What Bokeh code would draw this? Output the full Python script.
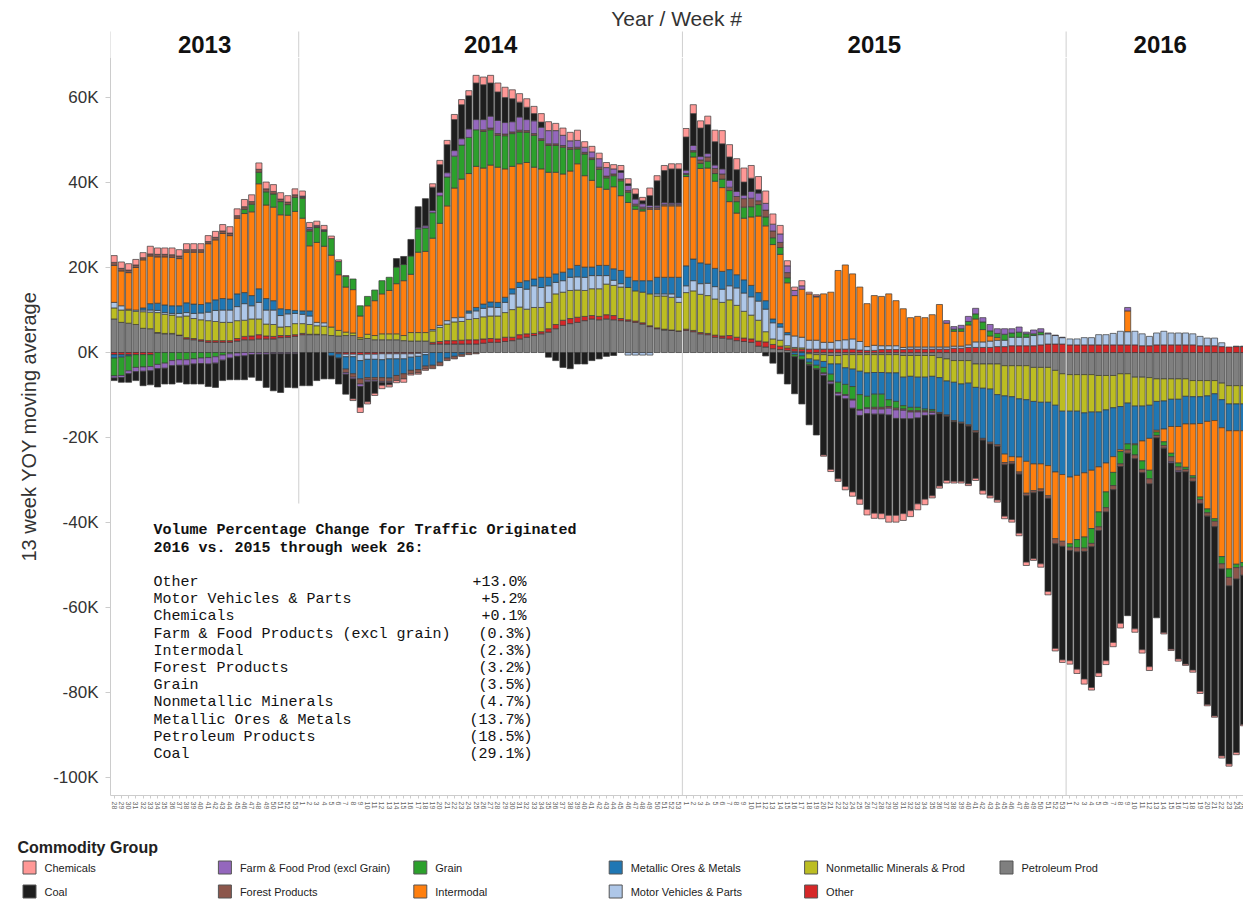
import numpy as np
from bokeh.plotting import figure
from bokeh.layouts import column
from bokeh.models import ColumnDataSource, FixedTicker, Range1d
from bokeh.core.properties import value
from bokeh.embed import file_html
from bokeh.resources import INLINE

# ---------------- data (thousands of carloads, 13-week YOY moving average) ----------------
YEARS = [2013, 2014, 2015, 2016]
WEEKS_2013 = list(range(28, 54))
WEEKS_2014 = list(range(1, 54))
WEEKS_2015 = list(range(1, 54))
WEEKS_2016 = list(range(1, 27))

PETROLEUM = [
    7.9,7.1,6.9,6.6,5.7,5.6,4.6,4.4,4.4,4.0,3.2,3.0,2.7,2.4,2.4,2.4,2.4,2.7,3.0,3.0,3.2,3.2,3.2,3.5,3.6,3.8,
    4.2,4.2,4.2,4.2,4.0,3.9,4.0,4.0,3.1,3.3,3.0,3.0,3.0,3.0,2.8,2.7,2.7,2.7,2.0,2.0,2.0,2.0,2.0,2.0,2.0,2.2,2.4,
    2.4,2.6,2.8,3.2,3.6,4.0,4.4,4.8,5.6,6.4,6.8,7.1,7.5,7.9,7.7,7.9,7.7,7.5,7.4,7.1,6.7,6.1,5.6,5.3,5.2,5.0,
    5.2,4.9,4.4,4.2,3.6,3.4,3.2,2.8,2.6,2.4,1.5,1.3,0.9,0.7,0.5,0.3,0.2,-0.3,-0.5,-0.5,-0.7,-0.7,-0.5,-0.5,-0.5,-0.5,-0.5,
    -0.5,-0.5,-0.5,-0.7,-0.7,-0.7,-0.7,-0.7,-1.2,-1.5,-1.9,-1.9,-1.9,-2.7,-2.7,-2.7,-2.7,-3.1,-3.1,-3.1,-3.1,-3.5,-3.5,-3.5,-4.2,-5.0,
    -5.2,-5.2,-5.2,-5.2,-5.4,-5.4,-5.4,-5.0,-5.0,-5.8,-5.8,-5.9,-6.2,-6.2,-6.2,-6.2,-6.2,-6.6,-6.6,-6.6,-6.6,-7.2,-7.8,-7.8,-7.8]
OTHER = [
    -0.5,-0.5,-0.5,-0.5,-0.5,-0.5,0.1,0.1,0.1,0.1,0.3,0.3,0.3,0.4,0.4,0.4,0.4,0.6,0.8,0.9,1.0,0.7,0.6,0.5,0.4,0.4,
    0.3,0.1,0.1,0.0,0.0,-0.3,-0.4,-0.4,-0.5,-0.4,-0.4,-0.3,-0.3,-0.3,-0.3,-0.3,-0.2,0.0,0.4,0.6,0.8,0.8,0.9,1.0,1.0,1.0,0.9,
    0.8,1.0,0.8,1.0,0.8,0.5,0.5,0.8,1.0,1.2,1.2,1.2,1.0,0.8,0.8,1.0,1.0,0.5,0.3,0.3,0.3,0.2,0.2,0.2,0.1,0.1,
    0.3,0.3,0.3,0.3,0.5,0.5,0.8,0.8,0.8,0.8,1.2,1.2,1.0,0.8,0.6,0.6,0.6,0.8,0.8,0.8,0.8,0.8,0.8,0.8,0.6,0.5,0.5,
    0.7,0.7,0.7,0.7,0.8,0.8,0.8,0.8,0.8,0.8,1.0,1.0,1.2,1.2,1.2,1.2,1.4,1.4,1.6,1.6,1.6,1.6,1.8,2.0,2.0,2.0,
    1.8,1.8,1.8,1.8,1.8,1.8,1.8,1.8,1.8,1.8,1.6,1.6,1.8,1.8,1.8,1.8,1.8,1.8,1.6,1.6,1.6,1.4,1.3,1.4,1.4]
NONMETALLIC = [
    2.6,2.9,3.1,3.1,3.9,3.9,4.7,4.5,4.3,4.3,5.1,4.7,4.7,4.7,4.5,4.3,4.3,4.2,3.8,4.0,3.7,2.8,2.8,2.0,2.1,2.6,
    2.3,2.3,2.0,2.0,2.0,1.3,0.8,0.6,0.4,1.0,1.0,1.4,1.4,1.4,1.2,2.0,2.0,2.0,2.7,3.3,3.9,4.4,4.4,4.8,5.0,5.2,5.3,
    5.4,5.8,6.5,6.5,5.8,6.1,5.7,6.2,7.2,6.6,6.6,6.4,6.1,6.3,6.5,7.2,7.1,7.4,7.6,7.1,7.2,7.5,7.5,7.8,7.7,6.7,
    8.6,9.3,9.0,8.9,8.5,7.9,8.4,7.5,6.3,5.6,4.9,2.4,1.3,1.4,0.5,0.3,0.3,-1.2,-1.3,-1.6,-2.0,-2.0,-3.1,-3.4,-3.9,-4.3,-4.2,
    -4.2,-4.3,-4.3,-5.1,-4.9,-5.1,-5.1,-4.9,-4.7,-5.2,-5.1,-5.5,-5.3,-5.5,-5.7,-5.9,-7.2,-7.1,-7.3,-7.8,-8.0,-8.0,-8.2,-8.2,-8.2,-8.8,
    -8.6,-8.6,-9.0,-8.8,-8.6,-8.1,-7.6,-7.7,-6.9,-6.8,-6.8,-6.5,-5.3,-5.2,-4.8,-4.8,-4.1,-3.8,-3.8,-3.6,-3.1,-3.9,-4.3,-4.3,-4.3]
MOTOR = [
    1.3,1.0,0.2,0.3,0.4,0.5,0.5,0.4,0.4,0.8,0.8,1.2,1.6,2.0,2.6,2.9,2.9,3.3,3.9,3.1,3.9,3.3,3.4,2.7,3.0,2.4,
    2.2,2.0,0.8,0.8,0.0,0.0,-0.6,-0.6,-1.4,-1.2,-1.2,-1.4,-1.2,-1.2,-1.2,-0.8,-0.7,-0.5,0.3,0.5,0.8,1.0,1.0,1.5,1.8,2.0,2.1,
    2.0,2.4,3.7,4.6,4.7,5.1,4.7,3.9,2.7,2.7,3.1,3.1,3.1,3.1,3.1,2.0,1.2,0.8,-0.6,-0.6,-0.6,-0.6,0.5,0.5,0.8,1.2,
    1.6,2.4,2.5,2.9,2.9,3.1,3.3,4.1,4.3,4.3,4.5,5.3,3.8,3.1,2.6,2.7,2.5,2.1,2.1,1.6,1.6,2.0,2.2,2.4,2.0,0.9,1.2,
    0.9,0.9,0.9,0.5,0.5,0.5,0.5,0.5,0.5,0.5,0.5,0.5,0.6,1.3,1.3,1.5,1.5,1.5,2.0,2.0,2.0,2.4,2.4,2.4,2.0,1.5,
    1.4,1.4,1.7,1.7,2.4,2.4,2.7,3.2,3.1,3.2,2.8,2.2,2.8,3.2,2.8,2.8,2.8,2.6,2.2,1.8,1.8,0.9,0.0,0.1,0.1]
METALLIC = [
    -0.8,-0.6,-0.3,0.0,0.5,1.5,1.7,1.8,1.8,1.8,2.3,2.2,2.0,2.2,2.5,2.7,2.6,3.0,2.6,2.4,3.2,2.7,2.2,1.6,1.0,0.7,
    0.8,1.2,0.0,0.0,-0.8,-1.0,-2.9,-4.0,-4.3,-4.3,-4.3,-4.2,-4.5,-3.9,-3.5,-3.1,-3.1,-2.7,-3.0,-2.3,-1.3,-0.9,-0.4,0.5,0.8,1.0,1.2,
    1.2,1.2,1.2,1.2,2.0,1.6,2.4,2.0,2.0,2.0,2.0,2.7,2.4,2.0,2.4,2.4,2.7,3.1,2.4,2.4,2.7,3.1,3.9,3.9,3.9,4.7,
    4.7,5.1,4.9,4.5,4.3,4.2,3.8,3.1,3.1,2.7,2.0,2.0,0.9,0.8,0.5,-0.5,-0.8,-0.8,-1.2,-1.4,-2.4,-4.3,-3.9,-4.1,-5.5,-5.5,-5.1,
    -5.1,-6.3,-6.7,-6.7,-7.3,-7.1,-7.5,-7.8,-8.2,-8.0,-9.0,-9.0,-9.8,-10.2,-11.8,-12.5,-11.8,-13.7,-14.1,-13.7,-14.5,-14.7,-14.5,-14.9,-15.7,-14.9,
    -15.5,-15.1,-14.1,-13.7,-12.9,-12.5,-11.5,-10.2,-9.6,-8.9,-8.2,-7.8,-6.8,-6.6,-6.4,-6.4,-6.5,-6.4,-6.3,-6.0,-6.3,-6.6,-6.3,-6.3,-6.3]
INTERMODAL = [
    8.7,8.2,8.6,10.0,11.3,11.2,10.9,11.3,11.4,11.1,11.9,12.2,12.3,13.9,14.1,15.3,14.9,17.8,18.6,19.7,24.7,22.0,22.0,22.1,22.2,23.3,
    21.8,15.3,18.8,18.0,16.9,13.1,10.6,10.2,5.1,6.7,8.2,9.4,10.2,11.8,12.9,13.7,18.9,19.1,21.5,24.0,27.0,30.5,32.5,32.3,33.2,32.0,32.2,
    31.8,30.2,28.8,27.9,27.8,26.3,25.5,24.7,23.9,23.1,23.0,23.9,21.5,20.4,18.4,17.9,19.3,17.6,17.6,16.8,16.4,16.8,16.0,16.8,16.8,16.8,
    21.0,24.0,22.2,22.6,20.5,19.7,16.0,14.5,14.5,16.1,18.0,17.6,17.5,16.3,11.7,9.5,11.3,10.9,10.2,11.4,11.8,16.5,17.6,15.3,12.8,10.1,11.7,
    11.6,12.2,10.6,9.1,6.9,7.2,6.9,7.6,10.0,5.6,3.5,3.5,4.7,5.4,2.9,1.2,0.6,-2.0,-1.2,-3.5,-7.5,-6.3,-5.9,-7.1,-15.7,-15.7,
    -15.7,-15.1,-15.1,-13.7,-10.6,-6.8,-3.7,-0.4,4.9,-0.2,-4.7,-7.5,-0.4,-3.0,-6.3,-8.6,-10.2,-12.2,-17.3,-20.6,-23.1,-30.3,-32.5,-31.4,-31.0]
GRAIN = [
    -4.2,-4.3,-3.5,-3.0,-2.9,-2.8,-2.8,-2.5,-1.9,-1.7,-1.7,-1.5,-1.3,-1.2,-1.0,-0.6,-0.3,-0.1,1.0,1.8,2.7,3.1,3.1,3.1,2.5,3.3,
    4.7,3.5,3.5,3.5,3.9,3.1,2.5,2.5,2.4,2.2,2.5,3.1,3.1,3.9,3.8,4.3,5.5,5.5,6.0,6.5,6.8,7.5,8.0,8.5,8.6,8.6,8.3,
    7.5,7.8,7.7,7.5,7.1,7.5,6.7,6.3,6.3,6.3,5.1,3.5,5.1,4.9,4.2,2.7,2.6,3.5,2.4,0.8,0.5,0.0,0.0,0.0,0.0,0.0,
    0.5,1.2,1.2,1.6,1.8,2.0,2.6,2.7,2.6,2.4,2.7,2.1,1.6,1.6,1.2,-0.5,-0.8,-0.5,-0.8,-1.3,-1.6,-2.4,-2.4,-3.0,-3.5,-2.7,-3.1,
    -3.1,-1.6,-1.6,-0.8,-0.8,-0.8,-0.4,-0.4,0.0,0.0,0.5,0.6,0.8,1.2,1.8,1.2,1.0,1.4,1.0,1.2,0.8,0.4,0.6,0.0,0.0,0.0,
    -0.8,-1.9,-2.6,-3.5,-3.5,-3.7,-3.1,-2.9,-1.4,-2.4,-2.0,-2.0,-0.8,-0.9,-0.8,-0.9,-0.5,-0.5,-0.6,-0.9,-0.6,-1.7,-2.0,-0.8,-1.0]
FOREST = [
    0.7,0.6,0.6,0.6,0.5,0.5,0.6,0.6,0.6,0.6,0.6,0.6,0.6,0.5,0.6,0.6,0.6,0.6,0.6,0.6,0.7,0.7,0.6,0.6,0.6,0.6,
    0.3,0.4,0.3,0.2,0.0,0.0,-0.8,-0.8,-1.2,-0.6,-0.6,-0.9,-0.8,-1.2,-1.2,-0.8,-0.8,-0.7,-0.8,-0.8,-0.6,-0.6,-0.5,-0.5,-0.3,0.4,0.4,
    0.4,0.4,0.4,0.4,0.4,0.4,0.4,0.4,0.4,0.4,0.4,0.4,0.4,0.4,0.5,0.4,0.4,0.4,0.4,0.4,0.4,0.4,0.4,0.4,0.4,0.4,
    0.2,0.3,0.8,1.0,1.2,1.2,0.8,1.2,2.0,2.0,0.9,1.6,1.6,1.2,1.2,0.0,0.0,-0.2,-0.2,-0.2,-0.2,-0.2,-0.2,-0.2,-0.2,-0.2,-0.4,
    -0.4,-0.4,-0.4,-0.3,-0.3,-0.3,-0.3,-0.3,-0.3,-0.3,-0.3,-0.3,-0.3,-0.4,-0.4,-0.4,-0.4,-0.5,-0.5,-0.5,-0.6,-0.5,-0.6,-0.6,-1.2,-1.2,
    -0.8,-1.0,-0.8,-0.8,-0.9,-1.0,-1.0,-0.6,-0.8,-0.9,-0.8,-1.2,-0.6,-0.6,-1.2,-0.9,-0.6,-0.8,-0.9,-0.8,-1.3,-1.2,-2.0,-2.7,-2.0]
FARM = [
    -0.5,-0.5,-0.7,-1.0,-1.0,-1.0,-1.0,-1.2,-1.2,-1.3,-1.3,-1.2,-1.3,-1.5,-1.5,-1.2,-1.0,-0.8,-0.8,-0.5,-0.4,-0.4,-0.3,-0.3,-0.3,-0.3,
    0.2,0.4,0.2,0.2,0.0,0.0,-0.4,-0.4,-0.6,-0.4,-0.3,-0.3,-0.3,0.0,0.0,0.0,0.3,0.5,0.5,0.8,1.0,1.3,1.5,2.0,2.4,2.4,2.8,
    3.1,2.7,2.4,3.1,2.6,3.0,2.7,3.1,3.1,2.4,1.6,1.6,1.2,1.4,2.0,2.0,1.2,1.6,1.2,1.2,0.8,0.5,0.4,0.4,0.3,0.3,
    0.8,1.2,0.8,0.8,0.8,1.2,1.6,1.2,0.8,1.6,1.8,1.6,1.6,2.0,1.6,1.2,0.8,0.0,0.2,-0.4,-0.5,-0.6,-0.8,-1.9,-1.2,-1.2,-1.2,
    -1.2,-1.6,-2.0,-2.0,-1.6,-1.4,-0.8,-0.6,0.0,0.6,0.6,0.8,1.2,1.3,1.0,1.5,1.1,1.3,1.0,1.2,0.4,0.9,0.8,0.2,0.1,0.1,
    0.0,0.0,0.0,0.0,0.0,0.0,0.0,0.0,0.8,0.0,0.0,0.0,0.0,0.0,-0.3,-0.3,0.0,0.0,0.0,0.0,0.0,0.0,0.0,0.0,0.0]
COAL = [
    -0.6,-1.1,-2.0,-2.1,-3.4,-3.3,-4.3,-3.7,-4.3,-4.0,-4.4,-4.7,-4.8,-5.3,-5.7,-4.8,-5.1,-5.5,-5.6,-5.3,-6.2,-7.8,-8.7,-9.1,-7.9,-8.0,
    -7.8,-7.8,-6.6,-6.2,-5.4,-6.1,-4.7,-4.7,-4.9,-4.7,-2.8,-0.6,-0.5,2.0,1.9,3.9,4.9,6.4,5.5,6.5,6.6,7.3,8.0,7.8,8.6,8.2,7.8,
    6.7,5.9,5.4,3.5,2.9,1.7,1.2,-1.1,-1.9,-3.5,-3.8,-2.7,-2.7,-1.9,-1.5,-0.9,-0.7,0.4,0.4,1.2,0.7,2.3,5.9,7.5,8.0,8.0,
    7.8,7.5,6.7,6.8,5.5,5.9,5.5,5.1,3.1,3.1,0.8,-0.8,-2.5,-5.0,-7.4,-8.7,-10.5,-14.0,-15.4,-18.7,-20.1,-19.5,-20.6,-19.7,-19.7,-22.5,-23.3,
    -23.4,-23.6,-22.8,-22.3,-21.6,-20.2,-19.7,-19.0,-17.0,-15.1,-14.0,-13.6,-13.6,-10.8,-11.9,-12.2,-12.6,-12.1,-13.1,-13.9,-15.6,-15.5,-17.0,-21.9,-24.6,-26.7,
    -25.9,-27.6,-30.0,-33.1,-33.5,-35.0,-35.9,-36.9,-38.2,-40.0,-41.6,-43.0,-42.3,-43.4,-43.8,-44.0,-45.2,-44.4,-44.2,-44.3,-44.5,-44.0,-41.9,-40.8,-35.1]
CHEMICALS = [
    1.6,1.5,1.5,1.3,1.2,1.8,1.5,1.5,1.6,1.5,1.4,1.4,1.4,1.4,1.4,1.5,1.5,1.6,1.7,1.6,1.5,1.6,1.6,1.5,1.5,1.4,
    1.2,1.2,1.0,1.0,0.6,0.4,0.2,-0.4,-1.2,-0.5,-0.5,-0.8,-0.5,-0.5,-0.8,-0.3,-0.3,-0.3,0.8,1.0,1.0,1.2,1.2,1.2,1.8,1.8,1.8,
    2.1,2.4,2.1,2.0,2.0,1.7,2.0,2.1,1.7,1.7,2.0,2.4,1.3,1.3,1.3,1.2,1.0,1.2,1.2,1.2,0.8,1.8,1.2,1.2,1.2,1.2,
    2.0,2.1,1.7,2.0,2.7,3.1,2.9,2.6,3.3,3.0,3.1,2.9,2.4,2.0,1.2,0.8,1.2,0.4,0.3,-0.3,-0.5,-0.6,-0.8,-1.0,-1.2,-1.3,-1.2,
    -1.2,-1.6,-1.6,-1.6,-1.4,-1.4,-1.3,-0.5,-0.5,-0.6,-0.4,-0.4,-0.4,-0.5,-0.8,-0.5,-0.5,-0.6,-0.6,-0.6,-0.8,-0.4,-0.8,-0.8,-0.6,-0.6,
    -0.8,-1.0,-1.2,-0.6,-0.8,-0.9,-1.0,-1.1,0.0,-0.8,-0.8,-0.9,0.0,-0.3,-0.3,-0.5,-0.3,-0.5,-0.5,-0.3,-0.3,-0.5,-0.5,-0.5,-0.3]

Y_TICKS = [-100, -80, -60, -40, -20, 0, 20, 40, 60]

NOTE_TITLE = ["Volume Percentage Change for Traffic Originated",
              "2016 vs. 2015 through week 26:"]
NOTE_LABELS = ["Other", "Motor Vehicles & Parts", "Chemicals", "Farm & Food Products (excl grain)",
               "Intermodal", "Forest Products", "Grain", "Nonmetallic Minerals",
               "Metallic Ores & Metals", "Petroleum Products", "Coal"]
NOTE_VALUES = [13.0, 5.2, 0.1, -0.3, -2.3, -3.2, -3.5, -4.7, -13.7, -18.5, -29.1]

# legend order (column-major in two rows) and colours
LEGEND = [("Chemicals", "#ff9896"), ("Coal", "#1e1e1e"),
          ("Farm & Food Prod (excl Grain)", "#9467bd"), ("Forest Products", "#8c564b"),
          ("Grain", "#2ca02c"), ("Intermodal", "#ff7f0e"),
          ("Metallic Ores & Metals", "#1f77b4"), ("Motor Vehicles & Parts", "#aec7e8"),
          ("Nonmetallic Minerals & Prod", "#bcbd22"), ("Other", "#d62728"),
          ("Petroleum Prod", "#7f7f7f")]
COLORS = dict(LEGEND)

# stacking order, from the zero line outward
STACK = [("Petroleum Prod", PETROLEUM), ("Other", OTHER), ("Nonmetallic Minerals & Prod", NONMETALLIC),
         ("Motor Vehicles & Parts", MOTOR), ("Metallic Ores & Metals", METALLIC), ("Intermodal", INTERMODAL),
         ("Grain", GRAIN), ("Forest Products", FOREST), ("Farm & Food Prod (excl Grain)", FARM),
         ("Coal", COAL), ("Chemicals", CHEMICALS)]

# ---------------- layout ----------------
FONT = "Liberation Sans"
W = 1243
LEFT = 110
HEAD_H, MAIN_H, LEG_H = 57, 775, 67
YEAR_WEEKS = [WEEKS_2013, WEEKS_2014, WEEKS_2015, WEEKS_2016]
week_labels = [w for ws in YEAR_WEEKS for w in ws]
N = len(PETROLEUM)
X = np.arange(N, dtype=float)

bounds = []
start = 0
for ws in YEAR_WEEKS:
    bounds.append((start - 0.5, start + len(ws) - 0.5))
    start += len(ws)

x_range = Range1d(-0.5, 156.0)
y_range = Range1d(-104.2, 69.4)
PX_X = (W - LEFT) / (x_range.end - x_range.start)   # px per week
PX_Y = 738 / (y_range.end - y_range.start)            # px per thousand

# header figure (Year / Week #, year labels)
h = figure(width=W, height=HEAD_H, x_range=x_range, y_range=Range1d(0, HEAD_H), toolbar_location=None,
           output_backend="svg", min_border_left=LEFT, min_border_right=0, min_border_top=0,
           min_border_bottom=0, x_axis_location=None, y_axis_location=None, title=None)
h.grid.visible = False
h.outline_line_color = None
h.text(x=[(bounds[0][0] + bounds[-1][1]) / 2], y=[HEAD_H - 18], text=["Year  /  Week #"], text_align="center",
       text_baseline="middle", text_font=value(FONT), text_font_size="21px", text_color="#333333")
h.text(x=[(a + b) / 2 for a, b in bounds], y=[HEAD_H - 44] * 4, text=[str(y) for y in YEARS],
       text_align="center", text_baseline="middle", text_font=value(FONT), text_font_size="24px",
       text_font_style="bold", text_color="#111111")
h.segment(x0=[b[0] for b in bounds], y0=[0] * 4, x1=[b[0] for b in bounds], y1=[HEAD_H - 31] * 4,
          line_color="#cfcfcf", line_width=1)

# main figure
p = figure(width=W, height=MAIN_H, x_range=x_range, y_range=y_range, toolbar_location=None,
           output_backend="svg", min_border_left=LEFT, min_border_right=0, min_border_top=0,
           min_border_bottom=MAIN_H - 738, title=None)
p.grid.visible = False
p.outline_line_color = None
p.background_fill_color = "white"

pos = np.zeros(N)
neg = np.zeros(N)
for name, vals in STACK:
    v = np.array((list(vals) + [0.0] * N)[:N], dtype=float)
    bottom = np.where(v >= 0, pos, neg + v)
    top = np.where(v >= 0, pos + v, neg)
    pos = pos + np.clip(v, 0, None)
    neg = neg + np.clip(v, None, 0)
    m = v != 0
    src = ColumnDataSource(dict(x=X[m], top=top[m], bottom=bottom[m]))
    p.vbar(x="x", top="top", bottom="bottom", width=0.84, source=src, fill_color=COLORS[name],
           line_color="#3c3c3c", line_width=0.8, line_alpha=0.9)

# year dividers (first one stops above the note)
div_x = [b[0] for b in bounds[1:]]
div_y0 = [(352 - 503) / PX_Y, y_range.start, y_range.start]
p.segment(x0=div_x, y0=div_y0, x1=div_x, y1=[y_range.end] * 3, line_color="#d6d6d6", line_width=1.2)

# note text (page pixel positions converted to the plot's coordinates)
def px_x(px):
    return x_range.start + (px - LEFT) / PX_X

def px_y(py):
    return (352 - py) / PX_Y

nx = px_x(153)
p.text(x=[nx, nx], y=[px_y(530), px_y(548)], text=NOTE_TITLE, text_align="left", text_baseline="middle",
       text_font=value("Liberation Mono"), text_font_size="15px", text_font_style="bold", text_color="#111111")
ly = [px_y(582 + k * 17.2) for k in range(len(NOTE_LABELS))]
p.text(x=[nx] * len(NOTE_LABELS), y=ly, text=NOTE_LABELS, text_align="left", text_baseline="middle",
       text_font=value("Liberation Mono"), text_font_size="15px", text_color="#111111")
vtxt = [("+%.1f%%" % v) if v >= 0 else ("(%.1f%%)" % abs(v)) for v in NOTE_VALUES]
vx = [px_x(526) if v >= 0 else px_x(532) for v in NOTE_VALUES]
p.text(x=vx, y=ly, text=vtxt, text_align="right", text_baseline="middle",
       text_font=value("Liberation Mono"), text_font_size="15px", text_color="#111111")

# axes
p.yaxis.ticker = FixedTicker(ticks=Y_TICKS)
p.yaxis.major_label_overrides = {t: "%dK" % t for t in Y_TICKS}
p.yaxis.major_label_text_font = FONT
p.yaxis.major_label_text_font_size = "17px"
p.yaxis.major_label_text_color = "#333333"
p.yaxis.axis_label = "13 week YOY moving average"
p.yaxis.axis_label_text_font = FONT
p.yaxis.axis_label_text_font_size = "20px"
p.yaxis.axis_label_text_font_style = "normal"
p.yaxis.axis_label_text_color = "#333333"
p.yaxis.axis_label_standoff = 10
p.yaxis.axis_line_color = "#cccccc"
p.yaxis.major_tick_line_color = "#cccccc"
p.yaxis.major_tick_out = 5
p.yaxis.major_tick_in = 0
p.yaxis.minor_tick_line_color = None
p.yaxis.major_label_standoff = 7

p.xaxis.ticker = FixedTicker(ticks=list(range(len(week_labels))))
p.xaxis.major_label_overrides = {i: str(w) for i, w in enumerate(week_labels)}
p.xaxis.major_label_orientation = "vertical"
p.xaxis.major_label_text_font = FONT
p.xaxis.major_label_text_font_size = "7px"
p.xaxis.major_label_text_color = "#666666"
p.xaxis.axis_line_color = "#cccccc"
p.xaxis.major_tick_line_color = "#cccccc"
p.xaxis.major_tick_out = 3
p.xaxis.major_tick_in = 0
p.xaxis.minor_tick_line_color = None
p.xaxis.major_label_standoff = 3

# legend figure (page pixel coordinates, not aligned with the plot frame)
lg = figure(width=W, height=LEG_H, x_range=Range1d(0, W), y_range=Range1d(0, LEG_H), toolbar_location=None,
            output_backend="svg", min_border=0, x_axis_location=None, y_axis_location=None, title=None)
lg.frame_align = False
lg.grid.visible = False
lg.outline_line_color = None
lg.text(x=[17], y=[LEG_H - 15], text=["Commodity Group"], text_align="left", text_baseline="middle",
        text_font=value(FONT), text_font_size="16px", text_font_style="bold", text_color="#222222")
COL_STEP = 195.4
sx, sy, tx, names, cols = [], [], [], [], []
for k, (name, col) in enumerate(LEGEND):
    c, r = divmod(k, 2)
    x = 29 + c * COL_STEP
    y = (LEG_H - 35) - r * 24
    sx.append(x); sy.append(y); tx.append(x + 15); names.append(name); cols.append(col)
lg.rect(x=sx, y=sy, width=13, height=13, fill_color=cols, line_color="#555555", line_width=1)
lg.text(x=tx, y=sy, text=names, text_align="left", text_baseline="middle", text_font=value(FONT),
        text_font_size="11px", text_color="#222222")

layout = column(h, p, lg, spacing=0)
open("out.html", "w").write(file_html(layout, INLINE))
